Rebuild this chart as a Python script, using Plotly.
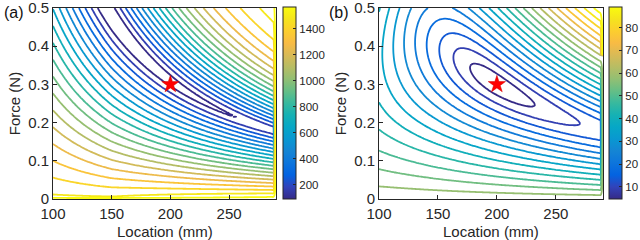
import numpy as np
import plotly.graph_objects as go

# ---------------- data ----------------
location_mm = np.arange(100, 291, 2)            # 100 ... 290 mm
force_N = np.round(np.arange(0, 0.5001, 0.005), 3)

true_location = [200]      # red star
true_force = [0.3]

# panel (a): single-sensor misfit
exp_a = 1.5                # location exponent of sensor A
measured_a = 0.31          # noisy reading (valley passes 0.31 N at 200 mm)
span_a = 1400              # misfit at zero force above the floor
sat_a = 1.0                # saturation of the over-estimate side
flat_a = 0.03              # rounding of the valley bottom
floor_loc_a = [150, 257]   # valley floor: locations ...
floor_val_a = [88, 162]    # ... and values
edge_a = 1569              # last column / zero-force row

# panel (b): two-sensor misfit
exp_b = [1.5, -0.6]        # location exponents of sensors A, B
weight_b = [176.5, 68.2]   # sensor weights
sat_b = 2.5
noise_b = [3.2, 1.5]
edge_b = [60, 89]          # last column below / above the step force
edge_step_b = 0.38

range_a = [92, 1569]
range_b = [4.7, 89]
n_levels = 20

x_ticks = [100, 150, 200, 250]
y_ticks = [0, 0.1, 0.2, 0.3, 0.4, 0.5]
y_ticktext = ["0", "0.1", "0.2", "0.3", "0.4", "0.5"]
cb_ticks_a = [200, 400, 600, 800, 1000, 1200, 1400]
cb_ticks_b = [10, 20, 30, 40, 50, 60, 70, 80]
panel_labels = ["(a)", "(b)"]
x_title = "Location (mm)"
y_title = "Force (N)"

# ---------------- misfit maps ----------------
L, F = np.meshgrid(location_mm, force_N)

# (a)
mA = F * (L / 200.0) ** exp_a
d = (mA - measured_a) / measured_a
d = np.where(d < 0, d, sat_a * np.tanh(d / sat_a))
d = d ** 2 / (np.abs(d) + flat_a)
slope = (floor_val_a[1] - floor_val_a[0]) / (floor_loc_a[1] - floor_loc_a[0])
floor = floor_val_a[0] + slope * np.clip(L - floor_loc_a[0], 0, None)
za = floor + span_a * d
za[:, -1] = edge_a
za[0, :] = edge_a

# (b)
m0 = true_force[0]
dA = (F * (L / 200.0) ** exp_b[0] - m0) / m0
dA = np.where(dA < 0, dA, sat_b * np.tanh(dA / sat_b)) * m0
dB = F * (L / 200.0) ** exp_b[1] - m0
zb = noise_b[0] + np.sqrt(noise_b[1] ** 2 + (weight_b[0] * dA) ** 2 + (weight_b[1] * dB) ** 2)
zb[:, -1] = np.where(force_N < edge_step_b, edge_b[0], edge_b[1])

parula = [
    (0.2081, 0.1663, 0.5292), (0.1959, 0.2645, 0.7279), (0.0117, 0.3875, 0.8820),
    (0.0498, 0.4586, 0.8641), (0.0793, 0.5200, 0.8312), (0.0343, 0.5966, 0.8199),
    (0.0228, 0.6535, 0.7768), (0.0843, 0.6928, 0.7062), (0.2178, 0.7250, 0.6193),
    (0.3953, 0.7459, 0.5244), (0.5709, 0.7485, 0.4494), (0.7184, 0.7411, 0.3905),
    (0.8507, 0.7299, 0.3360), (0.9739, 0.7314, 0.2666), (0.9880, 0.8066, 0.1794),
    (0.9589, 0.8949, 0.1132), (0.9763, 0.9831, 0.0538)]
cscale = [[i / (len(parula) - 1), "rgb(%d,%d,%d)" % tuple(int(round(c * 255)) for c in p)]
          for i, p in enumerate(parula)]

FONT = "Liberation Sans, Arial, sans-serif"
AX = "#262626"
W, H = 640, 240
y_top, y_bot = 8, 199

fig = go.Figure()

panels = [
    dict(z=za, rng=range_a, cbt=cb_ticks_a, cbx=283, xa="x", ya="y", xc=165),
    dict(z=zb, rng=range_b, cbt=cb_ticks_b, cbx=609, xa="x2", ya="y2", xc=491),
]

annotations = []
for i, p in enumerate(panels):
    lo, hi = p["rng"]
    step = (hi - lo) / (n_levels + 1)
    fig.add_trace(go.Contour(
        x=location_mm, y=force_N, z=p["z"],
        xaxis=p["xa"], yaxis=p["ya"],
        zmin=lo, zmax=hi, zauto=False, autocontour=False,
        contours=dict(start=lo + step, end=hi - step * 0.5, size=step, coloring="lines"),
        line=dict(width=1.8),
        colorscale=cscale, showscale=False, hoverinfo="skip",
    ))
    fig.add_trace(go.Scatter(
        x=true_location, y=true_force, mode="markers", xaxis=p["xa"], yaxis=p["ya"],
        marker=dict(symbol="star", size=13, color="#ff0000", line=dict(color="#d00000", width=0.5)),
        showlegend=False, hoverinfo="skip"))
    # continuous colour bar
    fig.add_trace(go.Scatter(
        x=[None, None], y=[None, None], mode="markers", xaxis=p["xa"], yaxis=p["ya"],
        showlegend=False, hoverinfo="skip",
        marker=dict(color=[lo, hi], cmin=lo, cmax=hi, colorscale=cscale, showscale=True,
                    colorbar=dict(
                        x=p["cbx"] / W, xanchor="left", xpad=0,
                        y=1 - y_bot / H, yanchor="bottom", ypad=0,
                        len=(y_bot - 7) / H, lenmode="fraction",
                        thickness=13, thicknessmode="pixels",
                        outlinewidth=1, outlinecolor=AX,
                        tickvals=p["cbt"], ticks="inside", ticklen=3, tickcolor=AX,
                        ticklabeloverflow="allow",
                        tickfont=dict(family=FONT, size=11.5, color=AX),
                    ))))
    annotations.append(dict(text=x_title, xref="paper", yref="paper", x=p["xc"] / W,
                            y=1 - 231 / H, xanchor="center", yanchor="middle", showarrow=False,
                            font=dict(size=15, family=FONT, color=AX)))
    annotations.append(dict(text=panel_labels[i], xref="paper", yref="paper",
                            x=(2 if i == 0 else 327) / W, y=1 - 12 / H,
                            xanchor="left", yanchor="middle", showarrow=False,
                            font=dict(size=16, family=FONT, color="#111")))

axis_common = dict(showline=True, mirror=True, linecolor=AX, linewidth=1, ticks="inside",
                   ticklen=4, tickcolor=AX, showgrid=False, zeroline=False,
                   ticklabeloverflow="allow", automargin=False,
                   tickfont=dict(family=FONT, size=15, color=AX))
yt = dict(text=y_title, font=dict(size=15, family=FONT, color=AX), standoff=3)

fig.update_layout(
    width=W, height=H, margin=dict(l=0, r=0, t=0, b=0, autoexpand=False),
    paper_bgcolor="white", plot_bgcolor="white", showlegend=False,
    font=dict(family=FONT, color=AX),
    xaxis=dict(domain=[53 / W, 276 / W], range=[100, 290], tickvals=x_ticks, anchor="y",
               ticklabelstandoff=1, **axis_common),
    yaxis=dict(domain=[1 - y_bot / H, 1 - y_top / H], range=[0, 0.5], tickvals=y_ticks,
               ticktext=y_ticktext, anchor="x", title=yt, **axis_common),
    xaxis2=dict(domain=[379 / W, 603 / W], range=[100, 290], tickvals=x_ticks, anchor="y2",
                ticklabelstandoff=1, **axis_common),
    yaxis2=dict(domain=[1 - y_bot / H, 1 - y_top / H], range=[0, 0.5], tickvals=y_ticks,
                ticktext=y_ticktext, anchor="x2", title=yt, **axis_common),
    annotations=annotations,
)

fig.write_html("out.html", config={"displayModeBar": False},
               post_script="document.body.style.margin='0';document.body.style.overflow='hidden';")
